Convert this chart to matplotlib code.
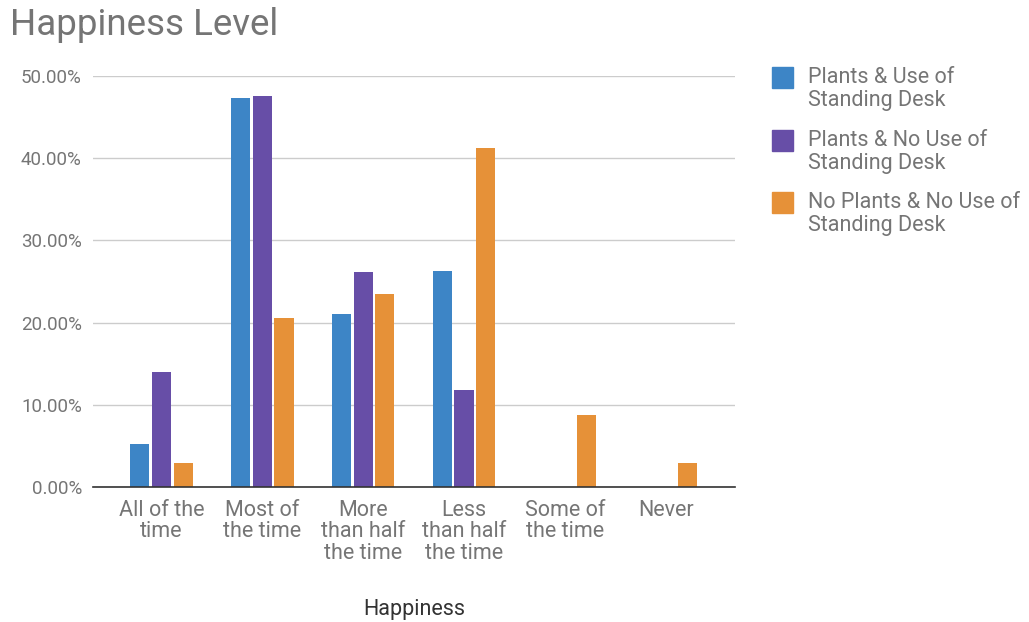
import matplotlib.pyplot as plt
import numpy as np
from matplotlib.ticker import FuncFormatter
from matplotlib.patches import Rectangle

plt.rcParams['font.family'] = ['Roboto', 'DejaVu Sans']

# Datos
categories = ['All of the\ntime', 'Most of\nthe time', 'More\nthan half\nthe time',
              'Less\nthan half\nthe time', 'Some of\nthe time', 'Never']
series_names = ['Plants & Use of\nStanding Desk',
                'Plants & No Use of\nStanding Desk',
                'No Plants & No Use of\nStanding Desk']
plants_standing = [5.26, 47.37, 21.05, 26.32, 0, 0]
plants_no_standing = [14.0, 47.5, 26.2, 11.8, 0, 0]
no_plants_no_standing = [2.94, 20.59, 23.53, 41.18, 8.82, 2.94]

colors = ['#3d85c6', '#674ea7', '#e69138']
text_gray = '#757575'
W, H = 1029, 622

fig = plt.figure(figsize=(10.29, 6.22), dpi=100)
ax = fig.add_axes([0.0904, 0.217, 0.624, 0.661])

x = np.arange(len(categories))
width = 0.19
offsets = [-0.215, 0, 0.215]
all_series = [plants_standing, plants_no_standing, no_plants_no_standing]
for vals, off, col, name in zip(all_series, offsets, colors, series_names):
    ax.bar(x + off, vals, width, color=col, label=name, zorder=3)

ax.set_xlim(-0.68, 5.69)
ax.set_ylim(0, 50)
ax.set_yticks([0, 10, 20, 30, 40, 50])
ax.yaxis.set_major_formatter(FuncFormatter(lambda v, p: f'{v:.2f}%'))
ax.grid(axis='y', color='#cccccc', linewidth=1, zorder=0)
for s in ['top', 'right', 'left']:
    ax.spines[s].set_visible(False)
ax.spines['bottom'].set_color('#333333')
ax.spines['bottom'].set_linewidth(1.2)
ax.spines['bottom'].set_zorder(4)
ax.tick_params(axis='both', length=0, labelcolor=text_gray)
ax.tick_params(axis='y', pad=8, labelsize=13.5)
ax.tick_params(axis='x', pad=9, labelsize=15.5)
ax.set_xticks(x)
ax.set_xticklabels(categories, linespacing=1.05)

ax.set_xlabel('Happiness', fontsize=15.5, color='#333333', labelpad=25)
fig.text(10 / W, 1 - 25 / H, 'Happiness Level', fontsize=26.5, color=text_gray, va='center')

# Leyenda hecha a mano para que el cuadrado quede en la primera línea
legend_y = [77, 140, 202]
for name, col, yy in zip(series_names, colors, legend_y):
    fig.patches.append(Rectangle((772 / W, 1 - (yy + 10.5) / H), 21 / W, 21 / H,
                                 transform=fig.transFigure, color=col))
    fig.text(808 / W, 1 - (yy - 10) / H, name, fontsize=15.5, color=text_gray,
             va='top', ha='left', linespacing=1.12)

fig.savefig('out.png', dpi=100)
